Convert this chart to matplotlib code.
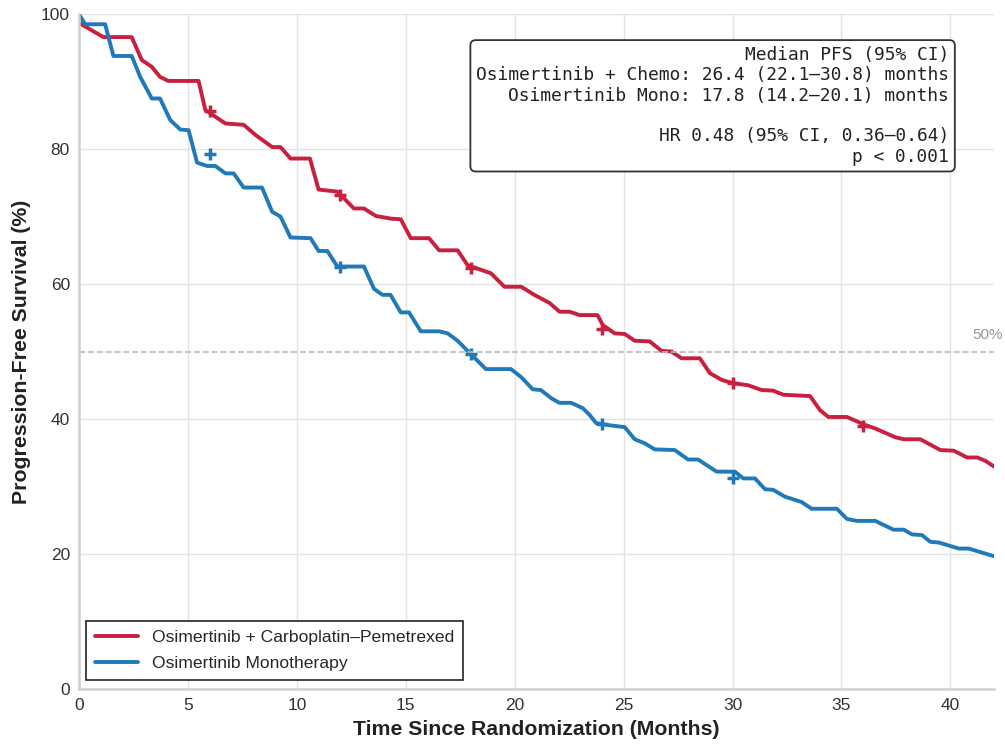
import numpy as np
import matplotlib
matplotlib.use("Agg")
import matplotlib.pyplot as plt
import seaborn as sns

sns.set_style("whitegrid")
plt.rcParams['font.family'] = ['Liberation Sans', 'DejaVu Sans']

# Kaplan-Meier estimates (months, % progression-free)
chemo_t = [0, 1.12, 2.42, 2.88, 3.34, 3.72, 4.1, 5.49, 5.8, 6.72, 7.56, 8.1, 8.87, 9.25,
           9.71, 10.6, 11.0, 11.86, 12.62, 13.08, 13.62, 14.3, 14.77, 15.23, 16.07, 16.53,
           17.38, 17.84, 18.91, 19.53, 20.3, 20.9, 21.6, 22.06, 22.52, 22.98, 23.8, 24.05,
           24.59, 25.05, 25.51, 26.2, 26.74, 27.2, 27.66, 28.5, 28.96, 29.5, 30.03, 30.72,
           31.33, 31.87, 32.33, 33.56, 34.02, 34.4, 35.25, 36.1, 36.55, 37.47, 37.86, 38.62,
           39.54, 40.16, 40.77, 41.23, 41.61, 42.08]
chemo_s = [98.7, 96.6, 96.6, 93.2, 92.2, 90.7, 90.1, 90.1, 85.8, 83.8, 83.6, 82.1, 80.3, 80.3,
           78.6, 78.6, 74.0, 73.7, 71.2, 71.2, 70.1, 69.7, 69.6, 66.8, 66.8, 65.0,
           65.0, 62.8, 61.6, 59.6, 59.6, 58.4, 57.2, 55.9, 55.9, 55.4, 55.4, 53.9,
           52.7, 52.6, 51.6, 51.5, 50.1, 50.0, 49.0, 49.0, 46.8, 45.8, 45.3, 45.0,
           44.3, 44.2, 43.6, 43.4, 41.3, 40.3, 40.3, 39.1, 38.6, 37.3, 37.0, 37.0,
           35.4, 35.3, 34.3, 34.3, 33.8, 32.8]

mono_t = [0, 0.28, 1.2, 1.58, 2.42, 2.81, 3.34, 3.72, 4.19, 4.65, 5.03, 5.42, 5.88, 6.26,
          6.72, 7.1, 7.56, 8.4, 8.87, 9.25, 9.71, 10.63, 11.0, 11.4, 11.86, 13.08, 13.54,
          13.93, 14.3, 14.77, 15.15, 15.69, 16.53, 16.92, 17.38, 17.99, 18.68, 19.83, 20.3,
          20.83, 21.2, 21.67, 22.05, 22.59, 23.13, 23.44, 23.74, 24.28, 25.05, 25.51, 25.97,
          26.43, 27.35, 27.96, 28.42, 29.27, 30.11, 30.49, 31.03, 31.49, 31.87, 32.4, 33.17,
          33.63, 34.79, 35.25, 35.71, 36.55, 37.39, 37.86, 38.24, 38.7, 39.08, 39.47, 40.39,
          40.85, 42.07]
mono_s = [100, 98.5, 98.5, 93.8, 93.8, 90.7, 87.5, 87.5, 84.3, 82.9, 82.8, 78.0, 77.5, 77.5,
          76.4, 76.4, 74.3, 74.3, 70.7, 70.0, 66.9, 66.8, 64.9, 64.9, 62.6, 62.6, 59.3,
          58.4, 58.4, 55.8, 55.8, 53.0, 53.0, 52.7, 51.6, 49.6, 47.4, 47.4, 46.2,
          44.4, 44.3, 43.1, 42.4, 42.4, 41.6, 40.6, 39.4, 39.1, 38.8, 37.0, 36.4,
          35.5, 35.4, 34.0, 34.0, 32.2, 32.2, 31.2, 31.2, 29.6, 29.5, 28.5, 27.7,
          26.7, 26.7, 25.2, 24.9, 24.9, 23.6, 23.6, 22.9, 22.8, 21.8, 21.7, 20.8,
          20.8, 19.6]

# censoring marks
chemo_cens_t = [6, 12, 18, 24, 30, 36]
chemo_cens_s = [85.6, 73.2, 62.4, 53.3, 45.3, 38.9]
mono_cens_t = [6, 12, 18, 24, 30]
mono_cens_s = [79.3, 62.5, 49.6, 39.3, 31.3]

labels = ["Osimertinib + Carboplatin\u2013Pemetrexed", "Osimertinib Monotherapy"]
red = "#c8203f"
blue = "#2179b8"

stats_text = ("Median PFS (95% CI)\n"
              "Osimertinib + Chemo: 26.4 (22.1\u201430.8) months\n"
              "Osimertinib Mono: 17.8 (14.2\u201420.1) months\n"
              "\n"
              "HR 0.48 (95% CI, 0.36\u20140.64)\n"
              "p < 0.001")

fig = plt.figure(figsize=(10.05, 7.44), dpi=100)
ax = fig.add_axes([0.0786, 0.074, 0.9104, 0.907])

ax.plot(chemo_t, chemo_s, color=red, linewidth=2.8, label=labels[0])
ax.plot(mono_t, mono_s, color=blue, linewidth=2.8, label=labels[1])
ax.plot(chemo_cens_t, chemo_cens_s, linestyle="none", marker="+", color=red,
        markersize=9, markeredgewidth=2.5)
ax.plot(mono_cens_t, mono_cens_s, linestyle="none", marker="+", color=blue,
        markersize=9, markeredgewidth=2.5)

# median reference line
ax.axhline(50, color="#bbbbbb", linestyle="--", linewidth=1.2)
ax.text(42.4, 51.4, "50%", color="#999999", fontsize=11, ha="right", va="bottom")

ax.set_xlim(0, 42)
ax.set_ylim(0, 100)
ax.set_xticks(np.arange(0, 41, 5))
ax.set_yticks(np.arange(0, 101, 20))
ax.tick_params(labelsize=12.5, colors="#333333", pad=3)
ax.set_xlabel("Time Since Randomization (Months)", fontsize=15.3, fontweight="bold",
              color="#222222", labelpad=5)
ax.set_ylabel("Progression-Free Survival (%)", fontsize=15.3, fontweight="bold",
              color="#222222", labelpad=7)
ax.grid(True, color="#e3e3e3", linewidth=1.0)
for side in ["top", "right"]:
    ax.spines[side].set_visible(False)
for side in ["left", "bottom"]:
    ax.spines[side].set_color("#d0d0d0")
    ax.spines[side].set_linewidth(1.8)

leg = ax.legend(loc="lower left", fontsize=12.6, frameon=True, fancybox=False,
                handlelength=2.5, labelspacing=0.62, borderpad=0.5,
                borderaxespad=0.5, bbox_to_anchor=(-0.002, 0.0))
leg.get_frame().set_edgecolor("#222222")
leg.get_frame().set_linewidth(1.2)
leg.get_frame().set_alpha(1)

ax.text(0.951, 0.953, stats_text, transform=ax.transAxes, ha="right", va="top",
        multialignment="right", family="DejaVu Sans Mono", fontsize=12.9, color="#222222",
        linespacing=1.17,
        bbox=dict(boxstyle="round,pad=0.32,rounding_size=0.3", facecolor="white",
                  edgecolor="#333333", linewidth=1.3))

fig.savefig("out.png", dpi=100)
